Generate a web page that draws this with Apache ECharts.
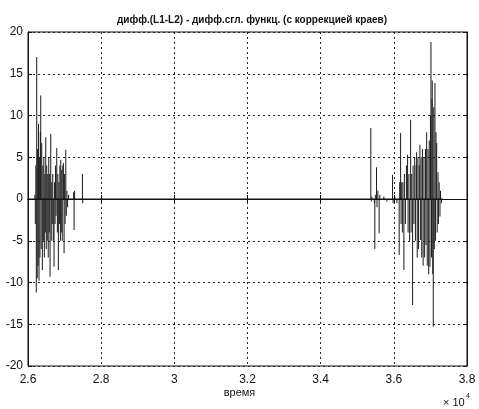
<!DOCTYPE html>
<html>
<head>
<meta charset="utf-8">
<script src="https://cdn.jsdelivr.net/npm/echarts@6/dist/echarts.min.js"></script>
<style>html,body{margin:0;padding:0;background:#fff;}#c{width:479px;height:409px;}</style>
</head>
<body>
<div id="c"></div>
<script>
var titleText = "дифф.(L1-L2) - дифф.сгл. функц. (с коррекцией краев)";
var xLabelText = "время";
var xTicks = [26000, 28000, 30000, 32000, 34000, 36000, 38000];
var yTicks = [-20, -15, -10, -5, 0, 5, 10, 15, 20];

// left burst
var leftT = [26000, 26186, 26200, 26214, 26227, 26238, 26252, 26263, 26277, 26288, 26301, 26312, 26326, 26337, 26348, 26359, 26375, 26392, 26406, 26419, 26433, 26447, 26460, 26474, 26485, 26499, 26512, 26526, 26540, 26553, 26567, 26581, 26592, 26603, 26622, 26636, 26649, 26663, 26677, 26690, 26712, 26726, 26740, 26753, 26767, 26786, 26803, 26816, 26830, 26844, 26858, 26871, 26885, 26896, 26910, 26923, 26937, 26953, 26967, 26986, 27000, 27014, 27033, 27047, 27063, 27082, 27110, 27151, 27247, 27260, 27274, 27288, 27480, 27488, 27496, 27507];
var leftV = [0, 0.5, -3, 4, -11.2, 17, -9.5, 6, -8, 9, -9.8, 5, -7, 8, 12.4, -6, 6.7, -8.5, 4, -5, 5, -7, 3, -4, 7.4, -6, 4, -5, 3, -7, 5, -4, 3, -9.3, 7.8, -5, 2, -3, 3, -5, -8.1, 2, -3, 4, -2, 6.1, -4, 3, -8.5, 2, -3, 4, -5, 4.7, -4, 3.5, -5, 4, 4.3, -6.5, 3, -3, 5.9, -2, 1, -1, 0.5, 0, 0.8, -3.7, 1, 0, 0, 3.0, -0.5, 0];

// right burst
var rightT = [35357, 35371, 35385, 35398, 35467, 35480, 35494, 35527, 35540, 35563, 35598, 35617, 35645, 35727, 35809, 35891, 35965, 35979, 36028, 36083, 36146, 36160, 36185, 36198, 36215, 36234, 36248, 36275, 36289, 36316, 36344, 36376, 36390, 36412, 36431, 36459, 36472, 36489, 36513, 36527, 36549, 36571, 36590, 36609, 36623, 36639, 36659, 36675, 36694, 36713, 36727, 36746, 36763, 36782, 36801, 36823, 36842, 36864, 36878, 36897, 36913, 36933, 36952, 36968, 36987, 37001, 37015, 37029, 37042, 37050, 37064, 37078, 37092, 37105, 37124, 37138, 37152, 37171, 37185, 37207, 37220, 37239, 37261, 37275, 37302, 37330, 37350];
var rightV = [0, 8.5, -0.3, 0.3, -0.5, -6.0, 0.5, 3.8, -1, 1, -4.1, 0.5, 0, 0.3, -0.3, 0, 2.9, -0.5, 0.3, -0.5, -6.7, 2, 7.9, -3, 2, -4, 2, -8.5, 3, -3, 4, 5.3, -4, 3, -5, 9.5, -4, 3, -12.7, 4, -3, 5, -5, 4, 5.6, -7, 5, -6, 4, 6.5, -4.9, 5, -7, 6, -8, 5, -7, 6, -5.5, 8.0, -8, 6, -9, 7, -8.1, 10, 18.8, -7, 12, 14.2, -9, -15.3, 11, -6, 13.9, -5, 8, 6.7, -4, 3.2, -3, 2, -2.1, 1, -0.5, 0, 0];

var signal = [];
for (var i = 0; i < leftT.length; i++) signal.push([leftT[i], leftV[i]]);
for (var j = 0; j < rightT.length; j++) signal.push([rightT[j], rightV[j]]);
var baseline = [[leftT[0], 0], [rightT[rightT.length - 1], 0]];

var chart = echarts.init(document.getElementById('c'), null, {renderer: 'canvas'});
var lblFont = {fontFamily: 'Liberation Sans, Arial, sans-serif', fontSize: 12, color: '#111'};
var dotted = {show: true, lineStyle: {color: '#222', type: [2, 3], width: 1}};
chart.setOption({
  animation: false,
  backgroundColor: '#fff',
  title: {
    text: titleText, left: 247, top: 10, textAlign: 'center',
    textStyle: {fontFamily: 'Liberation Sans, Arial, sans-serif', fontSize: 10, fontWeight: 'bold', color: '#111'}
  },
  grid: {left: 28, right: 12, top: 32, bottom: 43, show: true, borderColor: '#111', borderWidth: 1, backgroundColor: 'transparent'},
  xAxis: [{
    type: 'value', min: xTicks[0], max: xTicks[xTicks.length - 1], interval: 2000,
    axisLine: {show: true, lineStyle: {color: '#111'}},
    axisTick: {show: true, inside: true, length: 4, lineStyle: {color: '#111'}},
    axisLabel: Object.assign({margin: 8, formatter: function (v) { return String(+(v / 10000).toFixed(1)); }}, lblFont),
    splitLine: dotted
  }, {
    type: 'value', position: 'top', min: xTicks[0], max: xTicks[xTicks.length - 1], interval: 2000,
    axisLine: {show: true, lineStyle: {color: '#111'}},
    axisTick: {show: true, inside: true, length: 4, lineStyle: {color: '#111'}},
    axisLabel: {show: false}, splitLine: {show: false}
  }],
  yAxis: [{
    type: 'value', min: yTicks[0], max: yTicks[yTicks.length - 1], interval: 5,
    axisLine: {show: true, lineStyle: {color: '#111'}},
    axisTick: {show: true, inside: true, length: 4, lineStyle: {color: '#111'}},
    axisLabel: Object.assign({margin: 5}, lblFont),
    splitLine: dotted
  }, {
    type: 'value', position: 'right', min: yTicks[0], max: yTicks[yTicks.length - 1], interval: 5,
    axisLine: {show: true, lineStyle: {color: '#111'}},
    axisTick: {show: true, inside: true, length: 4, lineStyle: {color: '#111'}},
    axisLabel: {show: false}, splitLine: {show: false}
  }],
  graphic: [
    {type: 'text', left: 'center', top: 387, style: {text: xLabelText, font: '11px Liberation Sans, Arial, sans-serif', fill: '#111'}},
    {type: 'text', left: 443, top: 397, style: {text: '× 10', font: '11px Liberation Sans, Arial, sans-serif', fill: '#111'}},
    {type: 'text', left: 466, top: 393, style: {text: '4', font: '7px Liberation Sans, Arial, sans-serif', fill: '#111'}}
  ],
  series: [{
    type: 'bar', xAxisIndex: 0, yAxisIndex: 0, data: signal, barWidth: 1,
    itemStyle: {color: '#1a1a1a'}, z: 5, large: false
  }, {
    type: 'line', xAxisIndex: 0, yAxisIndex: 0, data: baseline, showSymbol: false, symbol: 'none',
    lineStyle: {color: '#111', width: 1.2}, z: 6
  }]
});
</script>
</body>
</html>
